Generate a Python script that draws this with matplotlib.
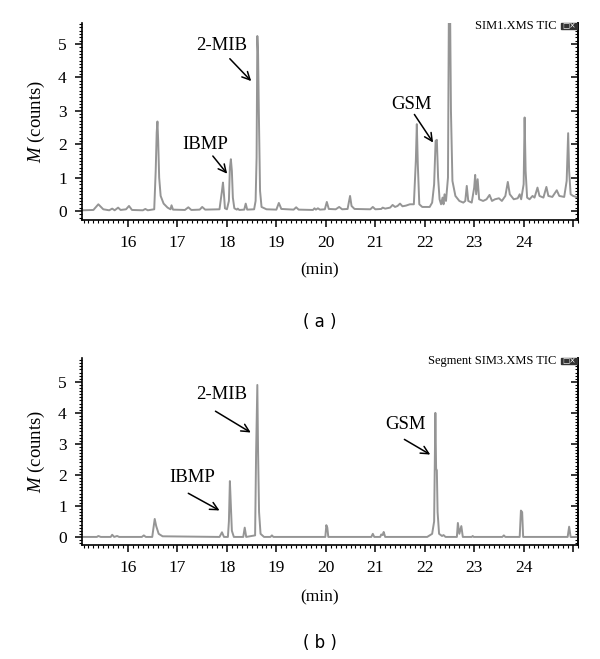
import matplotlib
matplotlib.use("Agg")
from matplotlib import pyplot as plt
from matplotlib.ticker import MultipleLocator, NullFormatter
from matplotlib.patches import Rectangle

plt.rcParams["mathtext.fontset"] = "custom"
plt.rcParams["mathtext.it"] = "Liberation Serif:italic"
plt.rcParams["mathtext.rm"] = "Liberation Serif"

# trace (a): SIM1.XMS TIC
t_a = [15.07, 15.30, 15.40, 15.50, 15.62, 15.68, 15.73, 15.80, 15.85, 15.96,
       16.02, 16.08, 16.30, 16.35, 16.40, 16.53, 16.56, 16.58, 16.595, 16.61,
       16.63, 16.66, 16.72, 16.80, 16.86, 16.88, 16.91, 17.15, 17.22, 17.28,
       17.45, 17.50, 17.56, 17.85, 17.90, 17.92, 17.94, 17.96, 18.00, 18.04,
       18.06, 18.08, 18.10, 18.12, 18.15, 18.20, 18.22, 18.25, 18.35, 18.38,
       18.41, 18.55, 18.58, 18.60, 18.615, 18.63, 18.645, 18.67, 18.70, 18.80,
       19.00, 19.05, 19.10, 19.35, 19.40, 19.45, 19.74, 19.77, 19.80, 19.84,
       19.88, 19.98, 20.02, 20.06, 20.20, 20.27, 20.33, 20.44, 20.47, 20.49,
       20.52, 20.58, 20.90, 20.95, 21.00, 21.12, 21.15, 21.20, 21.30, 21.35,
       21.40, 21.45, 21.50, 21.55, 21.62, 21.70, 21.78, 21.82, 21.84, 21.86,
       21.89, 21.95, 22.10, 22.15, 22.19, 22.22, 22.245, 22.27, 22.30, 22.33,
       22.36, 22.38, 22.40, 22.43, 22.47, 22.49, 22.51, 22.53, 22.56, 22.62,
       22.70, 22.78, 22.82, 22.85, 22.88, 22.95, 23.00, 23.02, 23.04, 23.07,
       23.10, 23.18, 23.25, 23.31, 23.36, 23.42, 23.50, 23.56, 23.63, 23.68,
       23.72, 23.80, 23.88, 23.92, 23.95, 24.00, 24.02, 24.04, 24.07, 24.12,
       24.18, 24.22, 24.28, 24.32, 24.40, 24.46, 24.50, 24.58, 24.67, 24.72,
       24.82, 24.87, 24.90, 24.92, 24.95, 25.00, 25.10]
m_a = [0.02, 0.03, 0.20, 0.05, 0.02, 0.07, 0.02, 0.10, 0.03, 0.05,
       0.15, 0.03, 0.02, 0.06, 0.02, 0.05, 1.20, 2.35, 2.68, 2.10,
       1.00, 0.45, 0.22, 0.10, 0.05, 0.17, 0.04, 0.03, 0.11, 0.03,
       0.04, 0.12, 0.04, 0.05, 0.60, 0.85, 0.50, 0.08, 0.05, 0.30,
       1.30, 1.55, 1.20, 0.40, 0.08, 0.04, 0.07, 0.03, 0.04, 0.22,
       0.04, 0.05, 0.30, 1.60, 5.24, 4.70, 3.00, 0.60, 0.12, 0.05,
       0.04, 0.24, 0.06, 0.04, 0.11, 0.04, 0.03, 0.08, 0.04, 0.08,
       0.04, 0.05, 0.27, 0.06, 0.05, 0.12, 0.05, 0.06, 0.30, 0.45,
       0.15, 0.06, 0.05, 0.12, 0.05, 0.06, 0.10, 0.07, 0.10, 0.18,
       0.12, 0.15, 0.22, 0.14, 0.16, 0.20, 0.20, 1.50, 2.60, 1.40,
       0.20, 0.12, 0.12, 0.25, 0.80, 2.10, 2.13, 1.00, 0.35, 0.20,
       0.40, 0.20, 0.50, 0.30, 1.00, 6.50, 6.50, 3.00, 0.90, 0.45,
       0.30, 0.25, 0.30, 0.75, 0.30, 0.25, 0.70, 1.08, 0.50, 0.95,
       0.35, 0.30, 0.35, 0.48, 0.30, 0.35, 0.38, 0.30, 0.45, 0.87,
       0.50, 0.35, 0.38, 0.50, 0.35, 0.80, 2.80, 1.20, 0.40, 0.35,
       0.45, 0.40, 0.70, 0.45, 0.40, 0.72, 0.45, 0.42, 0.62, 0.45,
       0.42, 0.90, 2.33, 1.20, 0.50, 0.45, 0.40]

# trace (b): Segment SIM3.XMS TIC
t_b = [15.07, 15.37, 15.40, 15.45, 15.65, 15.68, 15.72, 15.78, 15.82, 16.28,
       16.32, 16.36, 16.49, 16.52, 16.54, 16.57, 16.62, 16.70, 17.85, 17.90,
       17.94, 18.02, 18.04, 18.06, 18.08, 18.10, 18.14, 18.33, 18.36, 18.39,
       18.57, 18.59, 18.615, 18.63, 18.65, 18.68, 18.75, 18.88, 18.91, 18.94,
       19.99, 20.01, 20.03, 20.05, 20.92, 20.95, 20.98, 21.10, 21.12, 21.15,
       21.17, 21.20, 22.05, 22.10, 22.15, 22.19, 22.215, 22.23, 22.245, 22.26,
       22.29, 22.35, 22.38, 22.42, 22.65, 22.67, 22.70, 22.74, 22.77, 22.95,
       22.97, 22.99, 23.57, 23.60, 23.63, 23.92, 23.945, 23.97, 23.99, 24.89,
       24.92, 24.95, 25.10]
m_b = [0.0, 0.0, 0.03, 0.0, 0.0, 0.07, 0.0, 0.03, 0.0, 0.0,
       0.05, 0.0, 0.0, 0.35, 0.58, 0.35, 0.10, 0.02, 0.0, 0.15,
       0.0, 0.0, 0.50, 1.80, 1.00, 0.20, 0.0, 0.0, 0.30, 0.0,
       0.05, 2.70, 4.90, 2.75, 0.80, 0.10, 0.0, 0.0, 0.05, 0.0,
       0.0, 0.38, 0.30, 0.0, 0.0, 0.10, 0.0, 0.0, 0.08, 0.06,
       0.16, 0.0, 0.0, 0.05, 0.10, 0.50, 4.00, 2.20, 2.15, 0.80,
       0.10, 0.03, 0.06, 0.0, 0.0, 0.45, 0.10, 0.35, 0.0, 0.0,
       0.03, 0.0, 0.0, 0.05, 0.0, 0.0, 0.85, 0.80, 0.0, 0.0,
       0.33, 0.0, 0.0]

x_ticks = [16, 17, 18, 19, 20, 21, 22, 23, 24, 25]
x_labels = ["16", "17", "18", "19", "20", "21", "22", "23", "24", ""]

# peak labels: (text, text pos, arrow start, arrow tip)
labels_a = [("2-MIB", (17.9, 4.95), (18.02, 4.62), (18.53, 3.83)),
            ("IBMP", (17.56, 2.0), (17.68, 1.71), (18.04, 1.05)),
            ("GSM", (21.74, 3.2), (21.76, 2.96), (22.2, 1.98))]
labels_b = [("2-MIB", (17.9, 4.6), (17.72, 4.1), (18.53, 3.32)),
            ("IBMP", (17.29, 1.9), (17.17, 1.45), (17.9, 0.81)),
            ("GSM", (21.62, 3.62), (21.54, 3.19), (22.16, 2.61))]

serif = "Liberation Serif"
grey = "#959595"

fig = plt.figure(figsize=(6, 6.59), dpi=100)


def panel(rect, t, m, ylim, labels, title):
    ax = fig.add_axes(rect)
    ax.plot(t, m, color=grey, lw=1.4)
    ax.set_xlim(15.07, 25.1)
    ax.set_ylim(*ylim)
    ax.spines["top"].set_visible(False)
    for s in ["left", "right", "bottom"]:
        ax.spines[s].set_linewidth(1.2)
    ax.set_xticks(x_ticks)
    ax.set_xticklabels(x_labels)
    ax.xaxis.set_minor_locator(MultipleLocator(0.1))
    ax.yaxis.set_major_locator(MultipleLocator(1))
    ax.yaxis.set_minor_locator(MultipleLocator(0.1))
    ax.tick_params(which="major", direction="out", length=5, width=1.1,
                   labelsize=12.5, pad=6)
    ax.tick_params(which="minor", direction="out", length=2.5, width=0.8)
    for lab in ax.get_xticklabels() + ax.get_yticklabels():
        lab.set_fontfamily(serif)
    # right spine ticks point inward
    sec = ax.secondary_yaxis("right")
    sec.yaxis.set_major_locator(MultipleLocator(1))
    sec.yaxis.set_minor_locator(MultipleLocator(0.1))
    sec.yaxis.set_major_formatter(NullFormatter())
    sec.tick_params(which="major", direction="in", length=5, width=1.1)
    sec.tick_params(which="minor", direction="in", length=2.5, width=0.8)
    sec.spines["right"].set_linewidth(1.2)
    ax.set_ylabel("$M$ (counts)", fontsize=13.5, family=serif, labelpad=8)
    for txt, tp, a0, a1 in labels:
        ax.text(tp[0], tp[1], txt, fontsize=13.5, family=serif,
                ha="center", va="center")
        ax.annotate("", xy=a1, xytext=a0,
                    arrowprops=dict(arrowstyle="->", color="black", lw=1.1,
                                    mutation_scale=14))
    ax.text(0.957, 0.985, title, transform=ax.transAxes, fontsize=9,
            family=serif, ha="right", va="center")
    ax.add_patch(Rectangle((0.966, 0.968), 0.032, 0.034,
                           transform=ax.transAxes, color="#333333",
                           clip_on=False, zorder=5))
    ax.text(0.982, 0.985, "□×", transform=ax.transAxes, fontsize=5.5,
            color="white", ha="center", va="center", zorder=6)
    return ax


panel([0.1367, 0.6662, 0.8267, 0.2989], t_a, m_a, (-0.27, 5.63),
      labels_a, "SIM1.XMS TIC")
panel([0.1367, 0.1730, 0.8267, 0.2838], t_b, m_b, (-0.26, 5.77),
      labels_b, "Segment SIM3.XMS TIC")

fig.text(0.533, 1 - 270 / 659, "(min)", fontsize=12.5, family=serif,
         ha="center", va="center")
fig.text(0.533, 1 - 322 / 659, "( a )", fontsize=12, family="DejaVu Sans",
         ha="center", va="center")
fig.text(0.533, 1 - 597 / 659, "(min)", fontsize=12.5, family=serif,
         ha="center", va="center")
fig.text(0.533, 1 - 643 / 659, "( b )", fontsize=12, family="DejaVu Sans",
         ha="center", va="center")

fig.savefig("out.png", dpi=100)
